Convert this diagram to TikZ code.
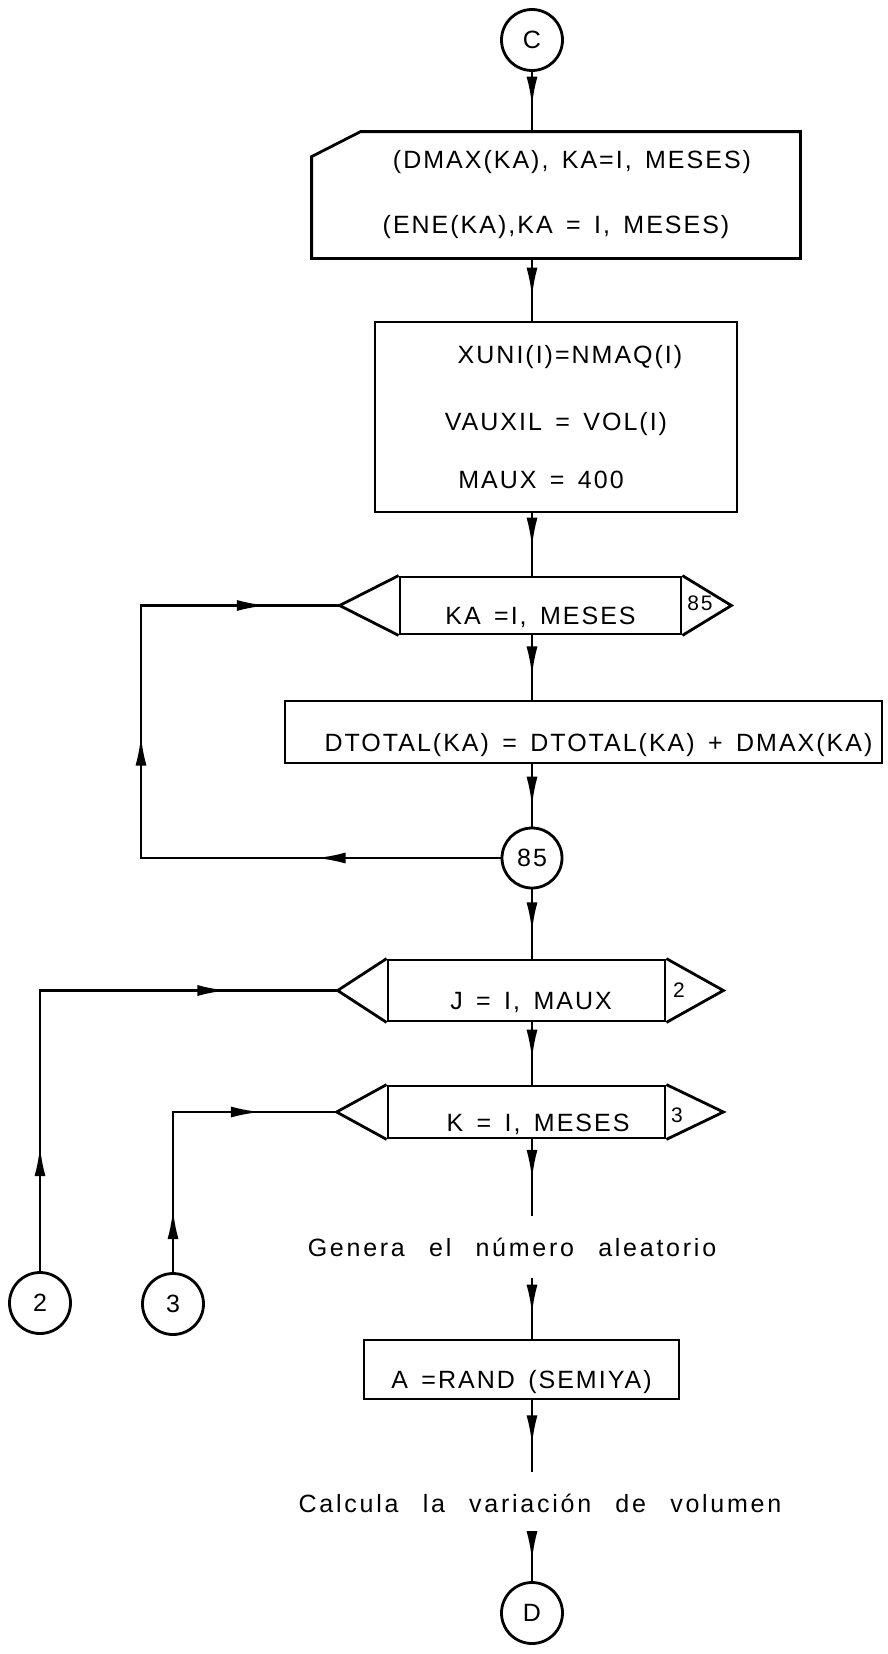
\documentclass[tikz,border=0pt]{standalone}
\usepackage{fontspec}
\setmainfont{Liberation Sans}[LetterSpace=8,WordSpace=1.5]
\newfontfamily\notefont{Liberation Sans}[LetterSpace=11,WordSpace=2.5]
\usetikzlibrary{arrows.meta,decorations.markings}

\begin{document}
\begin{tikzpicture}[
  x=1pt, y=-1pt,
  line width=2.8pt,
  font=\fontsize{25}{30}\selectfont,
  conn/.style={circle, draw, minimum size=61pt, inner sep=0pt},
  proc/.style={rectangle, draw, inner sep=0pt, text height=38pt, text depth=0pt},
  multi/.style={rectangle, inner sep=0pt, align=center},
  note/.style={inner xsep=0pt, inner ysep=21pt, text height=18pt, text depth=0pt,
               font=\notefont\fontsize{25}{30}\selectfont},
  tag/.style={inner sep=0pt, font=\fontsize{21}{24}\selectfont},
  flow/.style={postaction={decorate, decoration={markings,
      mark=at position #1 with {\arrow{Latex[length=30pt,width=11pt]}}}}}
]
\useasboundingbox (0,0) rectangle (887,1654);

\node[conn] (C) at (532,40) {C};
\node[multi, minimum width=486pt, minimum height=124pt] (ib) at (556,195)
  {\hspace*{32pt}(DMAX(KA), KA=I, MESES)\\[35pt](ENE(KA),KA = I, MESES)};
\draw ([yshift=-25pt]ib.north west) -- ([xshift=49pt]ib.north west) -- (ib.north east)
  -- (ib.south east) -- (ib.south west) -- cycle;
\node[multi, draw, minimum width=362pt, minimum height=190pt] (p1) at (556,417)
  {\hspace*{28pt}XUNI(I)=NMAQ(I)\\[37pt]VAUXIL = VOL(I)\hspace*{48pt}\\[28pt]MAUX = 400\hspace*{30pt}};

% lazo KA
\node[proc, minimum width=281pt, minimum height=57pt] (hA) at (540.5,605.5) {KA =I, MESES};
\coordinate (hAw) at ([xshift=-59pt]hA.west);
\coordinate (hAe) at ([xshift=49pt]hA.east);
\draw (hA.north west) -- (hAw) -- (hA.south west);
\draw (hA.north east) -- (hAe) -- (hA.south east);
\node[tag] (lA) at (700,603) {85};

\node[proc, minimum width=597pt, minimum height=62pt] (p2) at (583.5,732)
  {\hspace*{30pt}DTOTAL(KA) = DTOTAL(KA) + DMAX(KA)};
\node[conn, minimum size=60pt] (c85) at (532,858) {85};

% lazos J y K
\node[proc, minimum width=277pt, minimum height=61pt] (hJ) at (526.5,990.5) {\hspace*{9pt}J = I, MAUX};
\coordinate (hJw) at ([xshift=-49pt]hJ.west);
\coordinate (hJe) at ([xshift=57pt]hJ.east);
\draw (hJ.north west) -- (hJw) -- (hJ.south west);
\draw (hJ.north east) -- (hJe) -- (hJ.south east);
\node[tag] (lJ) at (679,990) {2};

\node[proc, minimum width=277pt, minimum height=52pt] (hK) at (526.5,1112) {\hspace*{23pt}K = I, MESES};
\coordinate (hKw) at ([xshift=-50pt]hK.west);
\coordinate (hKe) at ([xshift=57pt]hK.east);
\draw (hK.north west) -- (hKw) -- (hK.south west);
\draw (hK.north east) -- (hKe) -- (hK.south east);
\node[tag] (lK) at (677,1115) {3};

\node[note] (gen) at (512,1247) {Genera el número aleatorio};
\node[proc, minimum width=315pt, minimum height=59pt] (pA) at (521.5,1369.5) {A =RAND (SEMIYA)};
\node[note] (calc) at (540,1503) {Calcula la variación de volumen};
\node[conn] (D) at (532,1613) {D};
\node[conn] (c2) at (40,1303) {2};
\node[conn] (c3) at (173,1304) {3};

% flujo principal
\draw[flow=0.58] (C) -- (C |- ib.north);
\draw[flow=0.63] (C |- ib.south) -- (C |- p1.north);
\draw[flow=0.55] (C |- p1.south) -- (C |- hA.north);
\draw[flow=0.64] (C |- hA.south) -- (C |- p2.north);
\draw[flow=0.68] (C |- p2.south) -- (c85);
\draw[flow=0.62] (c85) -- (C |- hJ.north);
\draw[flow=0.6] (C |- hJ.south) -- (C |- hK.north);
\draw[flow=0.53] (C |- hK.south) -- (C |- gen.north);
\draw[flow=0.6] (C |- gen.south) -- (C |- pA.north);
\draw[flow=0.63] (C |- pA.south) -- (C |- calc.north);
\draw[flow=0.57] (C |- calc.south) -- (D);

% retornos
\coordinate (kA1) at (141,858);
\coordinate (kA2) at (141,605.5);
\draw[flow=185pt, flow=482pt, flow=738pt] (c85) -- (kA1) -- (kA2) -- (hAw);
\draw[flow=125pt, flow=468pt] (c2) -- (c2 |- hJw) -- (hJw);
\draw[flow=63pt, flow=248pt] (c3) -- (c3 |- hKw) -- (hKw);
\end{tikzpicture}
\end{document}
